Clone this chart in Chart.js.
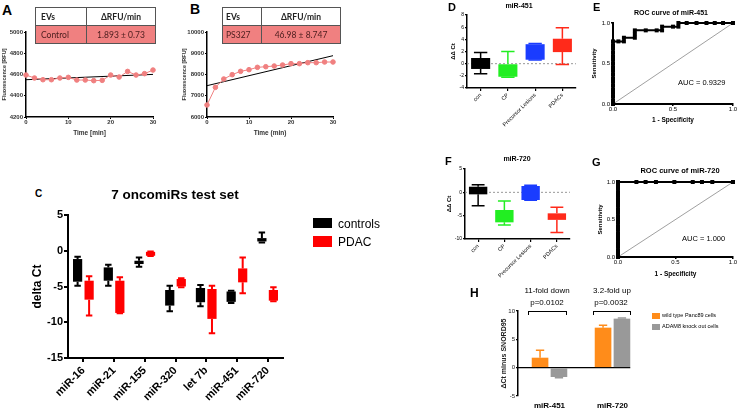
<!DOCTYPE html>
<html>
<head>
<meta charset="utf-8">
<script src="https://cdn.jsdelivr.net/npm/chart.js@4.4.1/dist/chart.umd.min.js"></script>
<style>
  html, body { margin: 0; padding: 0; background: #fff; }
  #fig { position: relative; width: 740px; height: 410px; overflow: hidden; font-family: 'Liberation Sans', Arial, sans-serif; }
  #fig canvas { position: absolute; }
  .t { position: absolute; white-space: nowrap; line-height: 1; color: #000; }
  .sq { position: absolute; }
  .br { position: absolute; border: 1px solid #000; border-bottom: none; height: 3px; }
  table.ev { position: absolute; border-collapse: collapse; table-layout: fixed; z-index: 2;
             font-family: Lato, 'Liberation Sans', sans-serif; font-size: 8.5px; color: #222; }
  table.ev td { border: 1px solid #555; height: 17px; padding: 0 0 0 5px; }
  table.ev tr.hd td { background: #fff; font-weight: bold; }
  table.ev tr.dt td { background: #f08080; color: #4a1c1c; }
  table.ev td.c { text-align: center; padding: 0; }
</style>
</head>
<body>
<div id="fig">
  <table class="ev" style="left:35px;top:7px;width:120px">
    <colgroup><col style="width:51px"><col style="width:69px"></colgroup>
    <tr class="hd"><td>EVs</td><td class="c">ΔRFU/min</td></tr>
    <tr class="dt"><td>Control</td><td class="c">1.893 ± 0.73</td></tr>
  </table>
  <table class="ev" style="left:222px;top:7px;width:118px">
    <colgroup><col style="width:39px"><col style="width:79px"></colgroup>
    <tr class="hd"><td style="padding-left:3px">EVs</td><td class="c">ΔRFU/min</td></tr>
    <tr class="dt"><td style="padding-left:3px">PS327</td><td class="c">46.98 ± 8.747</td></tr>
  </table>
</div>
<script>
// ---------- data ----------
const timeMin = [0, 2, 4, 6, 8, 10, 12, 14, 16, 18, 20, 22, 24, 26, 28, 30];
const rfuControl = [4595, 4567, 4551, 4551, 4567, 4573, 4548, 4548, 4542, 4545, 4595, 4576, 4629, 4595, 4608, 4642];
const rfuPS327 = [6565, 7396, 7788, 7992, 8149, 8227, 8337, 8368, 8400, 8447, 8510, 8510, 8557, 8557, 8588, 8588];
const fitTime = [0, 30];
const fitControl = [4551, 4601];
const fitPS327 = [7474, 8886];

const oncomiRs = ['miR-16', 'miR-21', 'miR-155', 'miR-320', 'let 7b', 'miR-451', 'miR-720'];
const ctrlMin = [-4.88, -4.88, -2.23, -8.47, -7.77, -7.3, 1.16];
const ctrlQ1  = [-4.33, -4.19, -1.86, -7.67, -7.2, -7.15, 1.3];
const ctrlQ3  = [-1.16, -2.33, -1.4, -5.49, -5.21, -5.7, 1.77];
const ctrlMax = [-0.84, -1.95, -0.93, -4.88, -4.79, -5.6, 2.56];
const pdacMin = [-9.07, -8.75, -0.74, -5.1, -11.53, -5.95, -7.07];
const pdacQ1  = [-6.84, -8.7, -0.7, -5.0, -9.53, -4.42, -6.98];
const pdacQ3  = [-4.19, -4.19, -0.15, -3.95, -5.35, -2.47, -5.49];
const pdacMax = [-3.58, -3.72, -0.1, -3.86, -4.88, -0.93, -5.12];

const groups = ['con', 'CP', 'Precursor Lesions', 'PDACs'];
const groupColors = ['#000000', '#22ee22', '#1a3cff', '#ff2a1a'];
const m451Min = [-1.64, -2.25, 0.6, -0.15];
const m451Q1  = [-0.87, -2.15, 0.65, 1.9];
const m451Q3  = [0.93, 0.0, 3.2, 4.1];
const m451Max = [1.85, 2.0, 3.3, 5.9];
const m720Min = [-2.86, -7.0, -1.7, -8.6];
const m720Q1  = [-0.43, -6.43, -1.64, -5.9];
const m720Q3  = [1.2, -3.79, 1.36, -4.5];
const m720Max = [1.64, -1.86, 1.5, -3.2];

const roc451Fpr = [0, 0, 0, 0, 0, 0, 0, 0, 0, 0, 0, 0, 0, 0, 0, 0, 0, 0,
  0.045, 0.091, 0.091, 0.182, 0.182, 0.182, 0.273, 0.364, 0.409, 0.409, 0.5, 0.545, 0.545, 0.614, 0.696, 0.779, 0.848, 0.917, 1];
const roc451Tpr = [0, 0.045, 0.091, 0.136, 0.182, 0.227, 0.273, 0.318, 0.364, 0.409, 0.455, 0.5, 0.545, 0.591, 0.636, 0.682, 0.727, 0.773,
  0.773, 0.773, 0.818, 0.818, 0.864, 0.909, 0.909, 0.909, 0.909, 0.955, 0.955, 0.955, 1, 1, 1, 1, 1, 1, 1];
const roc720Fpr = [0, 0, 0, 0, 0, 0, 0, 0, 0, 0, 0, 0, 0, 0, 0, 0, 0, 0, 0, 0, 0, 0, 0,
  0.16, 0.24, 0.33, 0.49, 0.65, 0.73, 0.82, 1];
const roc720Tpr = [0, 0.045, 0.091, 0.136, 0.182, 0.227, 0.273, 0.318, 0.364, 0.409, 0.455, 0.5, 0.545, 0.591, 0.636, 0.682, 0.727, 0.773, 0.818, 0.864, 0.909, 0.955, 1,
  1, 1, 1, 1, 1, 1, 1, 1];
const diagonal = [0, 1];

const cellMirs = ['miR-451', 'miR-720'];
const wtMean = [1.76, 7.06];
const wtErr  = [1.3, 0.41];
const koMean = [-1.65, 8.65];
const koErr  = [0.11, 0.11];

// ---------- setup ----------
const fig = document.getElementById('fig');
Chart.defaults.font.family = "'Liberation Sans', Arial, sans-serif";
Chart.defaults.color = '#000';
Chart.defaults.plugins.legend.display = false;
Chart.defaults.plugins.tooltip.enabled = false;

// whiskers / error bars drawn from the bar elements and the y scale
const whiskers = {
  id: 'whiskers',
  afterDatasetsDraw(chart) {
    const ctx = chart.ctx, y = chart.scales.y;
    chart.data.datasets.forEach((ds, di) => {
      if (!ds.ranges) return;
      chart.getDatasetMeta(di).data.forEach((bar, i) => {
        const col = Array.isArray(ds.whiskColor) ? ds.whiskColor[i] : ds.whiskColor;
        const cap = bar.width * ds.capRatio / 2;
        ctx.save();
        ctx.strokeStyle = col;
        ctx.lineWidth = ds.whiskWidth;
        ds.ranges[i].forEach(([from, to]) => {
          const p0 = y.getPixelForValue(from), p1 = y.getPixelForValue(to);
          ctx.beginPath();
          ctx.moveTo(bar.x, p0); ctx.lineTo(bar.x, p1);
          ctx.moveTo(bar.x - cap, p1); ctx.lineTo(bar.x + cap, p1);
          ctx.stroke();
        });
        ctx.restore();
      });
    });
  }
};

// horizontal line at y = 0 (dashed reference in D/F, the x axis in H)
const zeroLine = {
  id: 'zeroLine',
  beforeDatasetsDraw(chart, args, o) {
    if (!o || !o.show) return;
    const ctx = chart.ctx, a = chart.chartArea, py = chart.scales.y.getPixelForValue(0);
    let right = a.right;
    if (o.toLastBar) {
      const last = chart.getDatasetMeta(chart.data.datasets.length - 1).data;
      const b = last[last.length - 1];
      right = b.x + b.width / 2;
    }
    ctx.save();
    ctx.strokeStyle = o.color; ctx.lineWidth = o.width; ctx.setLineDash(o.dash || []);
    ctx.beginPath(); ctx.moveTo(a.left, py); ctx.lineTo(right, py); ctx.stroke();
    ctx.restore();
  }
};

// box = canvas [x, y, w, h], area = plot area [left, top, right, bottom] in page pixels
function panel(box, area, padL, padB, cfg) {
  const [bx, by, bw, bh] = box, [l, t, r, b] = area;
  const c = document.createElement('canvas');
  c.width = bw; c.height = bh;
  c.style.left = bx + 'px'; c.style.top = by + 'px';
  fig.appendChild(c);
  const yW = l - bx - padL, xH = by + bh - padB - b;
  cfg.options.layout = { autoPadding: false, padding: { left: padL, top: t - by, right: bx + bw - r, bottom: padB } };
  cfg.options.scales.x.afterFit = s => { s.height = xH; s.paddingLeft = 0; s.paddingRight = 0; };
  cfg.options.scales.y.afterFit = s => { s.width = yW; s.paddingTop = 0; s.paddingBottom = 0; };
  cfg.options.responsive = false;
  cfg.options.animation = false;
  cfg.plugins = [whiskers, zeroLine];
  return new Chart(c, cfg);
}

function axis(o) {
  return {
    grid: { drawOnChartArea: false, offset: false, color: '#000', lineWidth: o.tickW || 1, tickLength: o.tickLen, drawTicks: o.tickLen > 0 },
    border: { display: o.line !== false, color: '#000', width: o.lineW },
    ticks: { font: { size: o.size, weight: o.weight || 'normal' }, color: o.color || '#000', padding: o.pad === undefined ? 1 : o.pad },
    title: o.title ? { display: true, text: o.title, font: { size: o.tSize, weight: 'bold' }, color: o.color || '#000', padding: { top: 1, bottom: 0 } } : { display: false }
  };
}

// ---------- A, B: fluorescence kinetics ----------
function kinetics(box, area, rfu, fit, yMin, yMax, yStep, xTitle) {
  const x = axis({ tickLen: 2, lineW: 1.5, size: 6, weight: 'bold', color: '#333', pad: 0, title: xTitle, tSize: 6.5 });
  x.type = 'linear'; x.min = 0; x.max = 30; x.ticks.stepSize = 10; x.ticks.maxRotation = 0;
  x.title.padding = 0;
  const y = axis({ tickLen: 2, lineW: 1.5, size: 6, weight: 'bold', color: '#333', title: 'Fluorescence [RFU]', tSize: 5.5 });
  y.min = yMin; y.max = yMax; y.ticks.stepSize = yStep; y.ticks.callback = v => String(v);
  return panel(box, area, 0, 3, {
    type: 'scatter',
    data: { datasets: [
      { data: timeMin.map((t, i) => ({ x: t, y: rfu[i] })), showLine: true, borderColor: '#f08080',
        backgroundColor: '#f08080', borderWidth: 1, pointRadius: 2.3, clip: false },
      { data: fitTime.map((t, i) => ({ x: t, y: fit[i] })), showLine: true, borderColor: '#000',
        borderWidth: 1, pointRadius: 0, clip: false }
    ] },
    options: { scales: { x, y } }
  });
}
kinetics([0, 25, 165, 115], [26, 32, 153, 117], rfuControl, fitControl, 4200, 5000, 200, 'Time [min]');
kinetics([180, 25, 165, 115], [207, 32, 333, 117], rfuPS327, fitPS327, 6000, 10000, 1000, 'Time (min)');

// ---------- C: 7 oncomiRs ----------
function boxSet(label, color, q1, q3, lo, hi, ww) {
  return {
    label, data: q1.map((v, i) => [v, q3[i]]), backgroundColor: color, borderWidth: 0,
    ranges: q1.map((v, i) => [[q3[i], hi[i]], [v, lo[i]]]),
    whiskColor: color, whiskWidth: ww, capRatio: 0.7
  };
}
{
  const x = axis({ tickLen: 4, tickW: 2, lineW: 2, size: 11, weight: 'bold', pad: 2 });
  x.ticks.minRotation = 45; x.ticks.maxRotation = 45;
  const y = axis({ tickLen: 4, tickW: 2, lineW: 2, size: 11, weight: 'bold', title: 'delta Ct', tSize: 12 });
  y.min = -15; y.max = 5; y.ticks.stepSize = 5;
  y.title.padding = { top: 4, bottom: 0 };
  panel([0, 200, 390, 210], [68, 215, 283, 358], 26, 0, {
    type: 'bar',
    data: { labels: oncomiRs, datasets: [
      boxSet('controls', '#000', ctrlQ1, ctrlQ3, ctrlMin, ctrlMax, 2),
      boxSet('PDAC', '#ff0000', pdacQ1, pdacQ3, pdacMin, pdacMax, 2)
    ] },
    options: { datasets: { bar: { categoryPercentage: 0.75, barPercentage: 0.8 } }, scales: { x, y } }
  });
}

// ---------- D, F: group box plots ----------
function groupBox(box, area, padL, q1, q3, lo, hi, yMin, yMax, yStep) {
  const x = axis({ tickLen: 3, tickW: 1.2, lineW: 1.5, size: 5.5, pad: 1 });
  x.ticks.minRotation = 45; x.ticks.maxRotation = 45;
  const y = axis({ tickLen: 2, tickW: 1.2, lineW: 1.5, size: 5, title: 'ΔΔ Ct', tSize: 6 });
  y.min = yMin; y.max = yMax; y.ticks.stepSize = yStep;
  return panel(box, area, padL, 0, {
    type: 'bar',
    data: { labels: groups, datasets: [{
      data: q1.map((v, i) => [v, q3[i]]), backgroundColor: groupColors, borderWidth: 0,
      ranges: q1.map((v, i) => [[q3[i], hi[i]], [v, lo[i]]]),
      whiskColor: groupColors, whiskWidth: 1.5, capRatio: 0.7
    }] },
    options: {
      datasets: { bar: { categoryPercentage: 1, barPercentage: 0.7 } },
      plugins: { zeroLine: { show: true, color: '#999', width: 1, dash: [2, 2] } },
      scales: { x, y }
    }
  });
}
groupBox([440, 0, 140, 145], [467, 15, 576, 88], 9, m451Q1, m451Q3, m451Min, m451Max, -4, 8, 2);
groupBox([440, 145, 140, 150], [465, 169, 570, 239], 5, m720Q1, m720Q3, m720Min, m720Max, -10, 5, 5);

// ---------- E, G: ROC curves ----------
function roc(box, area, padL, padB, fpr, tpr) {
  const x = axis({ tickLen: 2, tickW: 1.5, lineW: 2, size: 6, pad: 0, title: '1 - Specificity', tSize: 6.5 });
  x.type = 'linear'; x.min = 0; x.max = 1; x.ticks.stepSize = 0.5; x.ticks.maxRotation = 0;
  x.ticks.callback = v => v.toFixed(1); x.title.padding = 0;
  const y = axis({ tickLen: 2, tickW: 1.5, lineW: 2, size: 6, title: 'Sensitivity', tSize: 6 });
  y.min = 0; y.max = 1; y.ticks.stepSize = 0.5; y.ticks.callback = v => v.toFixed(1);
  return panel(box, area, padL, padB, {
    type: 'scatter',
    data: { datasets: [
      { data: fpr.map((v, i) => ({ x: v, y: tpr[i] })), showLine: true, borderColor: '#000', backgroundColor: '#000',
        borderWidth: 2, pointRadius: 1.4, pointStyle: 'rect', clip: false },
      { data: diagonal.map(v => ({ x: v, y: v })), showLine: true, borderColor: '#888', borderWidth: 0.8, pointRadius: 0, clip: false }
    ] },
    options: { scales: { x, y } }
  });
}
roc([585, 15, 155, 115], [613, 23, 733, 104], 5, 6, roc451Fpr, roc451Tpr);
roc([585, 170, 155, 115], [618, 182, 733, 257], 11, 7, roc720Fpr, roc720Tpr);

// ---------- H: Panc89 cells ----------
function errSet(label, color, mean, err) {
  return {
    label, data: mean, backgroundColor: color, borderWidth: 0,
    ranges: mean.map((v, i) => [[v, v >= 0 ? v + err[i] : v - err[i]]]),
    whiskColor: color, whiskWidth: 1.5, capRatio: 0.5
  };
}
{
  const x = axis({ tickLen: 0, lineW: 1, size: 8, weight: 'bold', pad: 5, line: false });
  x.grid.display = false;
  const y = axis({ tickLen: 2, tickW: 1.2, lineW: 1.5, size: 6, color: '#222', title: 'ΔCt minus SNORD95', tSize: 7 });
  y.min = -5; y.max = 10; y.ticks.stepSize = 5;
  panel([490, 300, 160, 110], [518, 311, 644, 396], 9, 0, {
    type: 'bar',
    data: { labels: cellMirs, datasets: [
      errSet('wild type Panc89 cells', '#ff8c1a', wtMean, wtErr),
      errSet('ADAM8 knock out cells', '#999999', koMean, koErr)
    ] },
    options: {
      datasets: { bar: { categoryPercentage: 0.6, barPercentage: 0.88 } },
      plugins: { zeroLine: { show: true, color: '#000', width: 1.3, toLastBar: true } },
      scales: { x, y }
    }
  });
}

// ---------- annotation text ----------
const texts = [
  ['A', 2, 15, 14, 700, 'l'],
  ['B', 190, 14, 14, 700, 'l'],
  ['C', 35, 197, 10, 700, 'l'],
  ['7 oncomiRs test set', 175, 199, 13.5, 700, 'c'],
  ['D', 448, 11, 11, 700, 'l'],
  ['miR-451', 519, 8, 7, 700, 'c'],
  ['E', 593, 11, 11, 700, 'l'],
  ['ROC curve of miR-451', 671, 15, 7, 700, 'c'],
  ['AUC = 0.9329', 678, 85, 7.5, 400, 'l'],
  ['F', 445, 165, 11, 700, 'l'],
  ['miR-720', 517, 161, 7, 700, 'c'],
  ['G', 592, 166, 11, 700, 'l'],
  ['ROC curve of miR-720', 680, 173, 7.5, 700, 'c'],
  ['AUC = 1.000', 682, 241, 7.5, 400, 'l'],
  ['H', 470, 297, 12, 700, 'l'],
  ['11-fold down', 547, 294, 8, 400, 'c'],
  ['p=0.0102', 547, 306, 8, 400, 'c'],
  ['3.2-fold up', 612, 294, 8, 400, 'c'],
  ['p=0.0032', 611, 306, 8, 400, 'c'],
  ['controls', 338, 228, 12, 400, 'l'],
  ['PDAC', 338, 246, 12, 400, 'l'],
  ['wild type Panc89 cells', 662, 318, 5.5, 400, 'l'],
  ['ADAM8 knock out cells', 662, 329, 5.5, 400, 'l']
];
texts.forEach(([s, x, base, size, weight, align]) => {
  const d = document.createElement('div');
  d.className = 't';
  d.textContent = s;
  d.style.left = x + 'px';
  d.style.top = (base - 0.8465 * size) + 'px';
  d.style.fontSize = size + 'px';
  d.style.fontWeight = weight;
  if (align === 'c') d.style.transform = 'translateX(-50%)';
  fig.appendChild(d);
});

// legend swatches and significance brackets
[[313, 218, 19, 10, '#000'], [313, 236, 19, 11, '#ff0000'],
 [652, 313, 8, 6, '#ff8c1a'], [652, 324, 8, 6, '#999999']].forEach(([x, y, w, h, c]) => {
  const d = document.createElement('div');
  d.className = 'sq';
  d.style.cssText += `left:${x}px;top:${y}px;width:${w}px;height:${h}px;background:${c}`;
  fig.appendChild(d);
});
[[528, 311, 37], [593, 311, 36]].forEach(([x, y, w]) => {
  const d = document.createElement('div');
  d.className = 'br';
  d.style.cssText += `left:${x}px;top:${y}px;width:${w}px`;
  fig.appendChild(d);
});
</script>
</body>
</html>
